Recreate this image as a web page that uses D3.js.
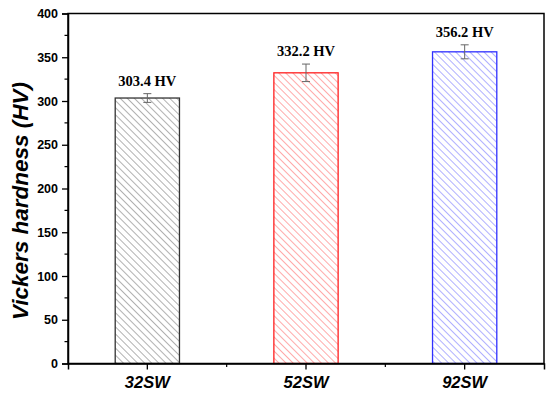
<!DOCTYPE html>
<html>
<head>
<meta charset="utf-8">
<script src="https://cdn.jsdelivr.net/npm/d3@7"></script>
<style>
  body { margin:0; background:#fff; }
  svg { display:block; }
  .tick text { font-family:"Liberation Sans", Arial, sans-serif; font-weight:bold; }
</style>
</head>
<body>
<svg width="550" height="399"></svg>
<script>
// ---------- data ----------
const samples  = ["32SW", "52SW", "92SW"];
const hardness = [303.4, 332.2, 356.2];
const errors   = [5, 10, 8];
const colors   = ["#333333", "#ff2020", "#3030ff"];
const yTicks   = [0, 50, 100, 150, 200, 250, 300, 350, 400];

const svg = d3.select("svg");
const L = 68, R = 544, T = 13.5, B = 363.5;

const x = d3.scaleBand().domain(samples).range([L, R]).padding(0);
const y = d3.scaleLinear().domain([0, 400]).range([B, T]);
const barW = x.bandwidth() * 0.405;

// hatch patterns
const defs = svg.append("defs");
samples.forEach((s, i) => {
  const p = defs.append("pattern").attr("id", "hatch" + i)
    .attr("patternUnits", "userSpaceOnUse").attr("width", 5).attr("height", 5)
    .attr("patternTransform", "rotate(-45)");
  p.append("line").attr("x1", 0).attr("y1", 0).attr("x2", 0).attr("y2", 5)
    .attr("stroke", colors[i]).attr("stroke-width", 0.9).attr("opacity", 0.85);
});

// bars
const bars = svg.append("g");
samples.forEach((s, i) => {
  const cx = x(s) + x.bandwidth() / 2;
  bars.append("rect").attr("x", cx - barW / 2).attr("y", y(hardness[i]))
    .attr("width", barW).attr("height", y(0) - y(hardness[i]))
    .attr("fill", "url(#hatch" + i + ")").attr("stroke", colors[i]).attr("stroke-width", 1.3);
  // error bar
  const e = bars.append("g").attr("stroke", "#666").attr("stroke-width", 1);
  const yt = y(hardness[i] + errors[i]), yb = y(hardness[i] - errors[i]);
  e.append("line").attr("x1", cx).attr("x2", cx).attr("y1", yt).attr("y2", yb);
  e.append("line").attr("x1", cx - 4).attr("x2", cx + 4).attr("y1", yt).attr("y2", yt);
  e.append("line").attr("x1", cx - 4).attr("x2", cx + 4).attr("y1", yb).attr("y2", yb);
  // value label
  svg.append("text").attr("x", cx).attr("y", yt - 8).attr("text-anchor", "middle")
    .attr("font-family", "'Liberation Serif', 'Times New Roman', serif")
    .attr("font-weight", "bold").attr("font-size", 14.5).text(hardness[i].toFixed(1) + " HV");
});

// frame
svg.append("rect").attr("x", L).attr("y", T).attr("width", R - L).attr("height", B - T)
  .attr("fill", "none").attr("stroke", "#000").attr("stroke-width", 1.5);

// y axis
const yAx = svg.append("g").attr("transform", `translate(${L},0)`)
  .call(d3.axisLeft(y).tickValues(yTicks).tickSize(6).tickPadding(4));
yAx.selectAll("text").attr("font-size", 12.5).attr("fill", "#000");
yAx.select(".domain").attr("stroke-width", 1.5);
yAx.selectAll(".tick line").attr("stroke-width", 1.3);
// minor y ticks
svg.append("g").selectAll("line").data(d3.range(25, 400, 50)).join("line")
  .attr("x1", L - 3.5).attr("x2", L).attr("y1", d => y(d)).attr("y2", d => y(d))
  .attr("stroke", "#000").attr("stroke-width", 1.2);

// x axis
const xAx = svg.append("g").attr("transform", `translate(0,${B})`)
  .call(d3.axisBottom(x).tickSize(6).tickPadding(7));
xAx.selectAll("text").attr("font-size", 16.5).attr("font-style", "italic").attr("fill", "#000");
xAx.select(".domain").attr("stroke-width", 1.5);
xAx.selectAll(".tick line").attr("stroke-width", 1.3);
// minor x ticks between categories
svg.append("g").selectAll("line").data(samples.slice(1)).join("line")
  .attr("x1", d => x(d)).attr("x2", d => x(d)).attr("y1", B).attr("y2", B + 3.5)
  .attr("stroke", "#000").attr("stroke-width", 1.2);

// y title
svg.append("text").attr("transform", `translate(28,201) rotate(-90)`)
  .attr("text-anchor", "middle").attr("font-family", "'Liberation Sans', Arial, sans-serif")
  .attr("font-weight", "bold").attr("font-style", "italic").attr("font-size", 22.5)
  .text("Vickers hardness (HV)");
</script>
</body>
</html>
